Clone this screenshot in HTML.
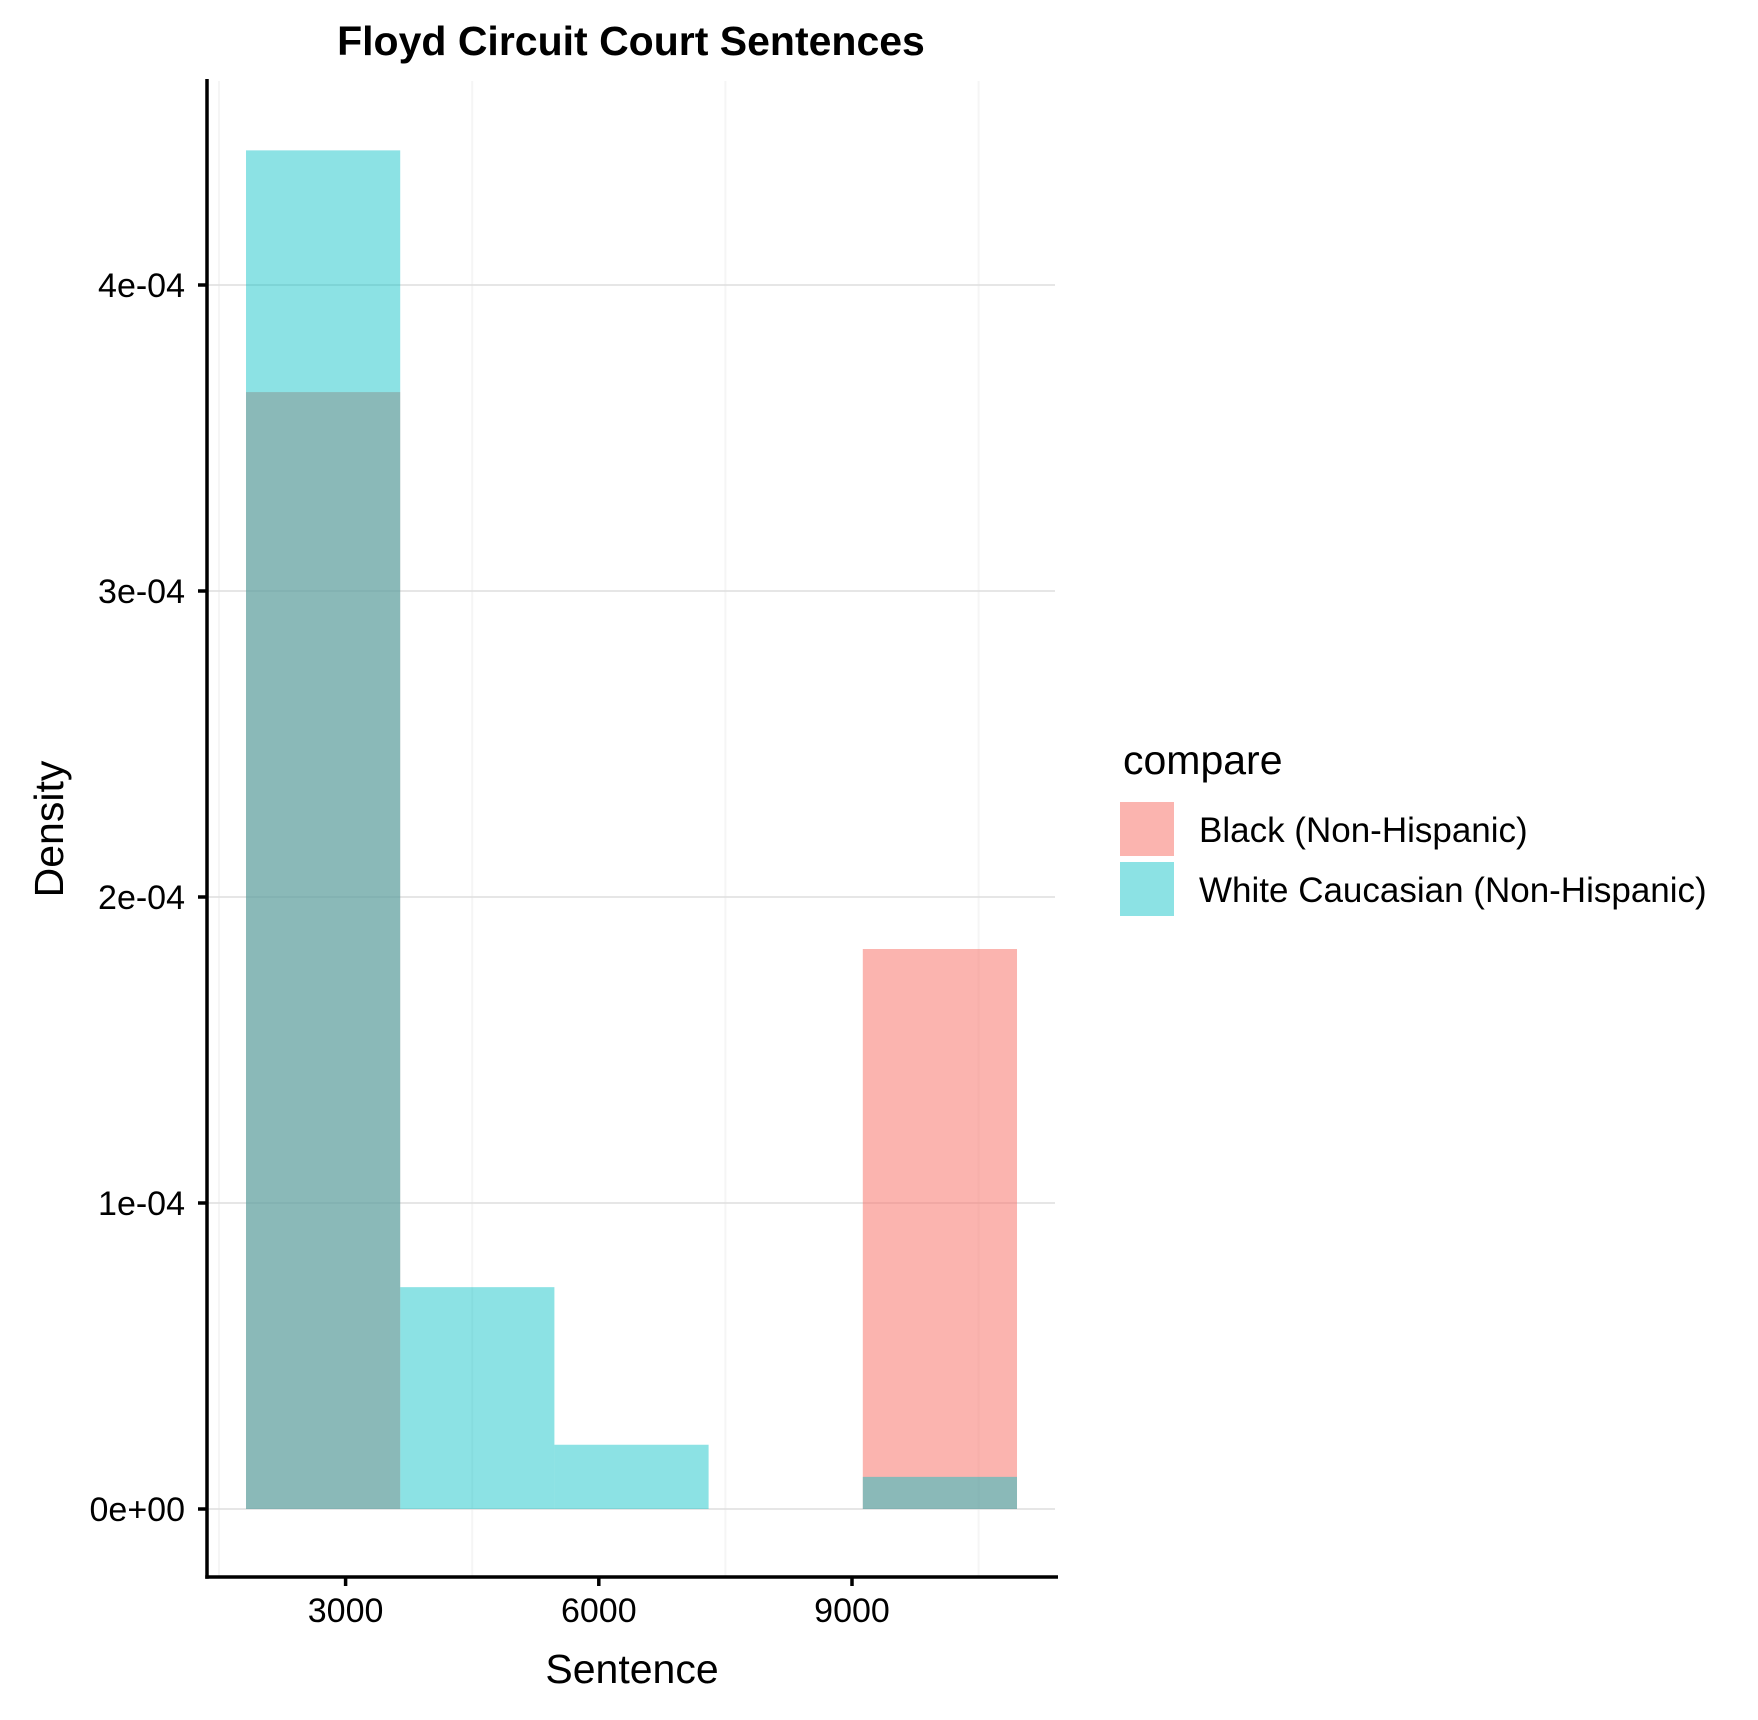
<!DOCTYPE html>
<html><head><meta charset="utf-8"><style>
html,body{margin:0;padding:0;background:#fff;}
svg{display:block;font-family:"Liberation Sans",Arial,sans-serif;}
</style></head><body>
<svg id="chart" width="1758" height="1720" viewBox="0 0 1758 1720" xmlns="http://www.w3.org/2000/svg">
<text x="631" y="55" text-anchor="middle" font-size="41" font-weight="bold">Floyd Circuit Court Sentences</text>
<g id="grid"></g>
<g id="bars"></g>
<g id="axes"></g>
<text x="632" y="1683" text-anchor="middle" font-size="41">Sentence</text>
<text transform="translate(63,829) rotate(-90)" text-anchor="middle" font-size="41">Density</text>
<g>
<text x="1123" y="774" font-size="41">compare</text>
<rect x="1120" y="802" width="54" height="54" fill="#F8766D" fill-opacity="0.55"/>
<text x="1199" y="842" font-size="35">Black (Non-Hispanic)</text>
<rect x="1120" y="862" width="54" height="54" fill="#00BFC4" fill-opacity="0.45"/>
<text x="1199" y="902" font-size="35">White Caucasian (Non-Hispanic)</text>
</g>
</svg>
<script>
const binEdges = [1820, 3647, 5474, 7301, 9128, 10955];
const blackDensity = [3.65e-4, 0, 0, 0, 1.83e-4];
const whiteDensity = [4.44e-4, 0.725e-4, 0.21e-4, 0, 0.105e-4];
const yTicks = [0, 1e-4, 2e-4, 3e-4, 4e-4];
const yTickLabels = ["0e+00", "1e-04", "2e-04", "3e-04", "4e-04"];
const xTicks = [3000, 6000, 9000];
const xTickLabels = ["3000", "6000", "9000"];
const xMinor = [1500, 4500, 7500, 10500];

const NS = "http://www.w3.org/2000/svg";
const PL = 207, PR = 1058, PT = 81, PB = 1577;
function sx(v){ return 345.6 + (v - 3000) * (852 - 345.6) / 6000; }
function sy(v){ return 1509 - v * 306 / 1e-4; }
function mk(tag, attrs, parent){
  const e = document.createElementNS(NS, tag);
  for (const k in attrs) e.setAttribute(k, attrs[k]);
  parent.appendChild(e);
  return e;
}
const grid = document.getElementById('grid');
const bars = document.getElementById('bars');
const axes = document.getElementById('axes');

xMinor.forEach(v => {
  const x = sx(v);
  if (x < PL || x > PR) return;
  const l = mk('line', {x1:x, x2:x, y1:PT, y2:PB, stroke:'#f5f5f5', 'stroke-width':2}, grid);
  
  
});
yTicks.forEach(v => {
  const y = sy(v);
  const l = mk('line', {x1:PL, x2:1055, y1:y, y2:y, stroke:'#dedede', 'stroke-width':1.5}, grid);
  
  
});

function drawSeries(vals, color, op, name){
  vals.forEach((v, i) => {
    if (v <= 0) return;
    const x0 = sx(binEdges[i]), x1 = sx(binEdges[i+1]);
    const r = mk('rect', {x:x0, y:sy(v), width:x1 - x0, height:sy(0) - sy(v), fill:color, 'fill-opacity':op}, bars);
    
    
  });
}
drawSeries(blackDensity, '#F8766D', 0.55, 'black');
drawSeries(whiteDensity, '#00BFC4', 0.45, 'white');

const ya = mk('line', {x1:PL, x2:PL, y1:79, y2:PB + 1.75, stroke:'#000', 'stroke-width':3.5}, axes);


const xa = mk('line', {x1:PL - 1.75, x2:PR, y1:PB, y2:PB, stroke:'#000', 'stroke-width':3.5}, axes);



yTicks.forEach((v, i) => {
  const y = sy(v);
  const t = mk('line', {x1:PL - 9, x2:PL, y1:y, y2:y, stroke:'#000', 'stroke-width':3.5}, axes);
  
  
  const lb = mk('text', {x:185, y:y + 12, 'text-anchor':'end', 'font-size':34}, axes);
  lb.textContent = yTickLabels[i];
  
  
});
xTicks.forEach((v, i) => {
  const x = sx(v);
  const t = mk('line', {x1:x, x2:x, y1:PB, y2:PB + 9, stroke:'#000', 'stroke-width':3.5}, axes);
  
  
  const lb = mk('text', {x:x, y:1622, 'text-anchor':'middle', 'font-size':34}, axes);
  lb.textContent = xTickLabels[i];
  
  
});
</script>
</body></html>
